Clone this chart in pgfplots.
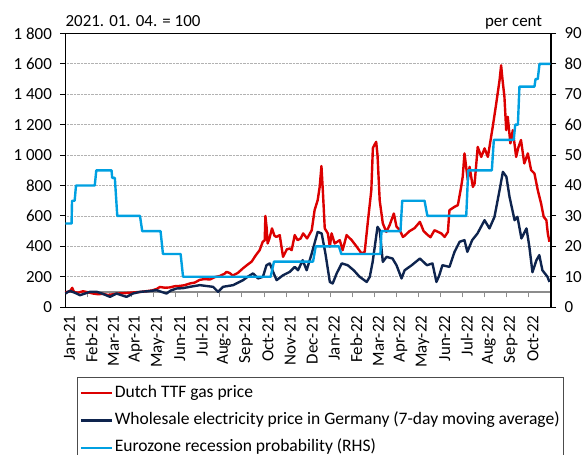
\documentclass[border=0pt]{standalone}
\usepackage{fontspec}
\setmainfont{Carlito}
\usepackage{pgfplots}
\pgfplotsset{compat=1.18}
\definecolor{ttfred}{RGB}{220,0,0}
\definecolor{elnavy}{RGB}{14,36,78}
\definecolor{recblue}{RGB}{0,160,225}
\newcommand{\chartfont}{\fontsize{17}{20}\selectfont}
\newcommand{\legfont}{\fontsize{17.6}{20}\selectfont}
\begin{document}
\begin{tikzpicture}
\pgfplotsset{
  base/.style={scale only axis, width=485.6bp, height=273.8bp, xmin=0, xmax=22,
    /pgf/number format/assume math mode=true,
    ticklabel style={font=\chartfont},
    axis line style={line width=1.2bp, black},
    tick style={line width=1bp, black},
  }}
% grey date axis crossing at 100 (drawn first, beneath the series)
\begin{axis}[base, at={(0,15.2bp)}, height=10bp, ymin=0, ymax=1,
  axis y line=none, axis x line*=bottom, x axis line style={-, line width=1.1bp, black!45},
  xtick={0,...,21}, xticklabels={}, tick align=outside, major tick length=5.5bp,
  xtick style={line width=1bp, black!45}]
\addplot[draw=none] coordinates {(0,0)};
\end{axis}
% main (left) axis
\begin{axis}[base, name=main, ymin=0, ymax=1800, ytick={0,200,...,1800},
  yticklabels={0,200,400,600,800,1 000,1 200,1 400,1 600,1 800},
  ytick pos=left, tick align=outside, major tick length=5bp,
  yticklabel style={xshift=-5bp},
  ymajorgrids, grid style={densely dotted, black!30, line width=0.7bp},
  xtick={0.18,1.18,2.18,3.18,4.18,5.18,6.18,7.18,8.18,9.18,10.18,11.18,12.18,13.18,14.18,15.18,16.18,17.18,18.18,19.18,20.18,21.18},
  xtick pos=bottom, xtick style={draw=none},
  xticklabels={Jan-21,Feb-21,Mar-21,Apr-21,May-21,Jun-21,Jul-21,Aug-21,Sep-21,Oct-21,Nov-21,Dec-21,Jan-22,Feb-22,Mar-22,Apr-22,May-22,Jun-22,Jul-22,Aug-22,Sep-22,Oct-22},
  xticklabel style={rotate=90, anchor=east},
  clip=false]
\addplot[ttfred, line width=2.4bp, line join=round] coordinates {
(0.00,95)(0.07,100)(0.21,105)(0.31,127)(0.39,100)(0.57,95)(0.80,105)(1.02,98)(1.25,90)(1.48,85)
(1.70,88)(1.93,80)(2.15,85)(2.38,90)(2.65,92)(2.92,95)(3.15,98)(3.38,100)(3.65,105)(3.92,110)
(4.14,120)(4.28,133)(4.51,128)(4.73,130)(4.96,138)(5.19,140)(5.41,145)(5.64,156)(5.86,162)(6.09,180)
(6.31,185)(6.54,182)(6.77,198)(6.99,205)(7.21,220)(7.30,232)(7.44,225)(7.58,208)(7.81,225)(8.04,255)
(8.22,276)(8.44,300)(8.62,340)(8.80,375)(8.94,430)(9.03,440)(9.06,600)(9.12,520)(9.16,419)(9.24,450)
(9.36,518)(9.47,470)(9.56,462)(9.71,474)(9.86,331)(10.03,380)(10.16,386)(10.25,375)(10.39,474)(10.52,441)
(10.66,452)(10.77,485)(10.95,452)(11.08,485)(11.16,506)(11.29,638)(11.43,704)(11.52,791)(11.60,928)(11.67,748)
(11.75,518)(11.89,485)(11.98,397)(12.06,485)(12.20,419)(12.43,441)(12.56,375)(12.74,474)(12.97,441)(13.20,397)
(13.42,353)(13.56,364)(13.71,572)(13.86,770)(13.93,1046)(14.01,1070)(14.08,1087)(14.14,1000)(14.24,700)(14.38,551)
(14.54,495)(14.69,540)(14.88,616)(15.00,530)(15.15,506)(15.29,462)(15.37,470)(15.59,500)(15.82,520)(16.06,561)
(16.23,500)(16.42,474)(16.54,460)(16.72,506)(17.03,485)(17.18,462)(17.33,495)(17.40,638)(17.63,660)(17.78,671)
(17.93,791)(18.00,857)(18.08,1011)(18.23,835)(18.31,923)(18.46,791)(18.54,814)(18.68,1054)(18.84,988)(18.99,1044)
(19.14,988)(19.36,1186)(19.52,1340)(19.67,1493)(19.74,1590)(19.80,1500)(19.89,1383)(19.97,1164)(20.04,1252)(20.16,1077)
(20.27,1164)(20.42,988)(20.52,1050)(20.64,1099)(20.79,945)(20.95,1011)(21.10,901)(21.25,879)(21.40,770)(21.55,682)
(21.67,594)(21.79,572)(21.86,480)(21.93,430)};
\addplot[elnavy, line width=2.4bp, line join=round] coordinates {
(0.00,90)(0.12,101)(0.21,107)(0.43,95)(0.66,79)(0.89,90)(1.11,101)(1.42,101)(1.66,90)(2.02,68)
(2.32,90)(2.52,80)(2.77,68)(3.06,90)(3.38,101)(3.74,105)(4.13,112)(4.37,100)(4.58,90)(4.78,110)
(5.04,123)(5.32,125)(5.64,134)(6.09,145)(6.36,140)(6.69,134)(6.92,101)(7.14,134)(7.60,145)(8.05,178)
(8.26,200)(8.50,222)(8.73,189)(8.95,200)(9.11,276)(9.26,288)(9.41,232)(9.57,178)(9.86,210)(10.16,232)
(10.39,265)(10.54,243)(10.75,309)(10.93,243)(11.16,353)(11.43,495)(11.61,485)(11.78,353)(11.98,166)(12.11,156)
(12.29,222)(12.52,288)(12.79,276)(13.06,243)(13.33,200)(13.65,166)(13.79,200)(13.92,298)(14.14,528)(14.24,507)
(14.38,298)(14.55,331)(14.82,320)(15.00,276)(15.23,189)(15.37,243)(15.69,276)(16.06,320)(16.38,276)(16.63,288)
(16.81,166)(16.94,210)(17.08,276)(17.40,265)(17.63,364)(17.86,430)(18.08,441)(18.21,364)(18.43,441)(18.67,485)
(18.99,572)(19.21,518)(19.44,594)(19.67,770)(19.82,890)(19.98,857)(20.12,726)(20.35,572)(20.48,594)(20.66,452)
(20.89,518)(21.02,397)(21.16,230)(21.34,309)(21.47,342)(21.61,243)(21.84,200)(21.93,166)};
\node[anchor=base west, yshift=6.7bp, font=\chartfont, inner sep=0pt] at (rel axis cs:0,1) {2021. 01. 04. = 100};
\node[anchor=base east, xshift=-8.7bp, yshift=6.7bp, font=\chartfont, inner sep=0pt] at (rel axis cs:1,1) {per cent};
\end{axis}
% right axis
\begin{axis}[base, ymin=0, ymax=90, ytick={0,10,...,90},
  axis y line*=right, axis x line=none, y axis line style={-},
  tick align=outside, major tick length=5bp, yticklabel style={xshift=5bp},
  legend cell align=left,
  legend style={at={(0.0245,-0.256)}, anchor=north west, draw=black!70, line width=0.8bp,
    inner xsep=2bp, inner ysep=5.7bp, row sep=7.2bp, column sep=0bp, font=\legfont,
    nodes={inner xsep=2bp, inner ysep=2bp, text height=12bp, text depth=4bp}},
  legend image code/.code={\path (0bp,0bp) -- (9bp,0bp); \draw[#1] (9bp,0bp) -- (30.7bp,0bp);}]
\addlegendimage{ttfred, line width=2.2bp}
\addlegendentry{Dutch TTF gas price}
\addlegendimage{elnavy, line width=2.2bp}
\addlegendentry{Wholesale electricity price in Germany (7-day moving average)}
\addplot[recblue, line width=2.4bp, line join=round] coordinates {
(0,27.5)(0.28,27.5)(0.30,35)(0.42,35)(0.48,40)(1.33,40)(1.40,45)(2.09,45)(2.12,42.5)(2.24,42.5)
(2.35,30)(3.38,30)(3.48,25)(4.31,25)(4.42,17.5)(5.22,17.5)(5.33,10)(9.30,10)(9.45,15)(11.22,15)
(11.34,20)(12.39,20)(12.50,17.5)(14.27,17.5)(14.32,25)(15.18,25)(15.26,35)(16.27,35)(16.40,30)(18.16,30)
(18.25,45)(19.32,45)(19.41,55)(20.31,55)(20.38,60)(20.50,60)(20.57,72.5)(21.25,72.5)(21.30,75)(21.40,75)
(21.48,80)(21.97,80)};
\addlegendentry{Eurozone recession probability (RHS)}
\end{axis}
\pgfresetboundingbox
\path (-65.4bp,-147.8bp) rectangle (521.6bp,307.2bp);
\end{tikzpicture}
\end{document}
